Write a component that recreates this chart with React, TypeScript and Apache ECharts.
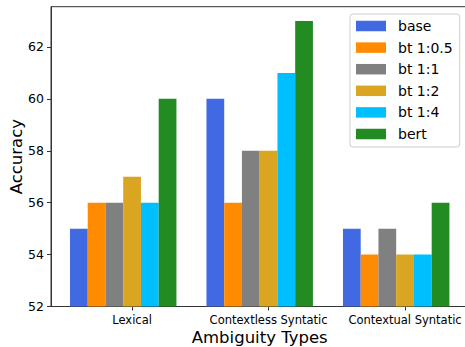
import React, { useEffect, useRef } from "react";
import * as echarts from "echarts";

const CATEGORIES = ["Lexical", "Contextless Syntatic", "Contextual Syntatic"];
const SERIES_NAMES = ["base", "bt 1:0.5", "bt 1:1", "bt 1:2", "bt 1:4", "bert"];
const SERIES_COLORS = ["#4169E1", "#FF8C00", "#808080", "#DAA520", "#00BFFF", "#228B22"];
const BASE = [55, 60, 55];
const BT_05 = [56, 56, 54];
const BT_1 = [56, 58, 55];
const BT_2 = [57, 58, 54];
const BT_4 = [56, 61, 54];
const BERT = [60, 63, 56];
const SERIES_VALUES = [BASE, BT_05, BT_1, BT_2, BT_4, BERT];
const Y_TICKS = [52, 54, 56, 58, 60, 62];

const BAR_W = 0.13;
const Y_MIN = 52;
const Y_MAX = 63.55;
const X_MIN = -0.594;
const X_MAX = 2.464;

export default function App() {
  const ref = useRef<HTMLDivElement>(null);
  useEffect(() => {
    if (!ref.current) return;
    const chart = echarts.init(ref.current, undefined, { renderer: "svg" });
    const series = SERIES_NAMES.map((name, i) => ({
      name,
      type: "custom",
      itemStyle: { color: SERIES_COLORS[i] },
      encode: { x: 0, y: 1 },
      data: SERIES_VALUES[i].map((v, c) => [c + (i - 3) * BAR_W, v]),
      renderItem: (params: any, api: any) => {
        const x = api.value(0);
        const y = api.value(1);
        const p1 = api.coord([x - BAR_W / 2, y]);
        const p2 = api.coord([x + BAR_W / 2, Y_MIN]);
        return {
          type: "rect",
          shape: { x: p1[0], y: p1[1], width: p2[0] - p1[0], height: p2[1] - p1[1] },
          style: { fill: SERIES_COLORS[i] },
        };
      },
    }));
    chart.setOption({
      animation: false,
      backgroundColor: "#ffffff",
      textStyle: { fontFamily: "DejaVu Sans" },
      grid: {
        left: 51,
        top: 6.7,
        width: 417.4,
        height: 299.8,
        containLabel: false,
        outerBoundsMode: "none",
        show: true,
        borderColor: "#333",
        borderWidth: 1,
        backgroundColor: "transparent",
      },
      legend: {
        orient: "vertical",
        left: 350,
        top: 14,
        padding: [5, 7, 6, 6],
        itemWidth: 30,
        itemHeight: 10.5,
        itemGap: 7.6,
        icon: "rect",
        backgroundColor: "#ffffff",
        borderColor: "#cccccc",
        borderWidth: 1,
        borderRadius: 3,
        textStyle: {
          fontFamily: "DejaVu Sans",
          fontSize: 14,
          lineHeight: 14,
          color: "#000",
          padding: [0, 0, 0, 7],
        },
        data: SERIES_NAMES,
      },
      xAxis: {
        type: "value",
        min: X_MIN,
        max: X_MAX,
        name: "Ambiguity Types",
        nameLocation: "middle",
        nameGap: 22,
        nameMoveOverlap: false,
        nameTextStyle: { fontFamily: "DejaVu Sans", fontSize: 16.5, color: "#000" },
        splitLine: { show: false },
        axisLine: { show: true, onZero: false, lineStyle: { color: "#333", width: 1 } },
        axisTick: { show: true, length: 4, customValues: [0, 1, 2], lineStyle: { color: "#333" } },
        axisLabel: {
          customValues: [0, 1, 2],
          formatter: (v: number) => CATEGORIES[Math.round(v)],
          fontFamily: "DejaVu Sans",
          fontSize: 11.5,
          color: "#000",
          margin: 7,
        },
      },
      yAxis: {
        type: "value",
        min: Y_MIN,
        max: Y_MAX,
        name: "Accuracy",
        nameLocation: "middle",
        nameGap: 26,
        nameMoveOverlap: false,
        nameTextStyle: { fontFamily: "DejaVu Sans", fontSize: 16.5, color: "#000" },
        splitLine: { show: false },
        axisLine: { show: true, onZero: false, lineStyle: { color: "#333", width: 1 } },
        axisTick: { show: true, length: 4, customValues: Y_TICKS, lineStyle: { color: "#333" } },
        axisLabel: {
          customValues: Y_TICKS,
          fontFamily: "DejaVu Sans",
          fontSize: 12.5,
          color: "#000",
          margin: 7,
        },
      },
      series,
    });
    return () => chart.dispose();
  }, []);
  return (
    <div
      ref={ref}
      style={{ position: "fixed", left: 0, top: 0, width: 465, height: 347 }}
    />
  );
}
